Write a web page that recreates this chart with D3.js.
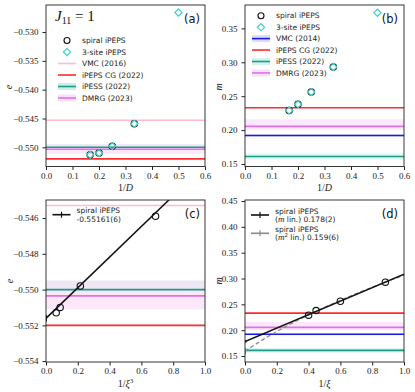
<!DOCTYPE html>
<html>
<head>
<meta charset="utf-8">
<script src="https://cdn.jsdelivr.net/npm/d3@7"></script>
<style>
  body { margin: 0; background: #fff; }
  svg { display: block; }
  .tick text { font-family: "Liberation Serif", serif; font-size: 9px; fill: #222; }
  .tick line { stroke: #222; }
  .leg { font-family: "DejaVu Sans", sans-serif; font-size: 7.5px; fill: #222; }
  .plab { font-family: "DejaVu Sans", sans-serif; font-size: 11.5px; fill: #111; }
  .alab { font-family: "Liberation Serif", serif; font-size: 10px; fill: #222; }
</style>
</head>
<body>
<div id="chart"></div>
<script>
// ---- data ----
const invD = [1/6, 1/5, 1/4, 1/3];
const spiralE = [-0.5513, -0.5510, -0.5498, -0.5459];
const spiralM = [0.229, 0.238, 0.256, 0.293];

const threeSiteInvD = [1/6, 1/5, 1/4, 1/3, 1/2];
const threeSiteE = [-0.5513, -0.5510, -0.5498, -0.5459, -0.5266];
const threeSiteM = [0.229, 0.238, 0.256, 0.293, 0.373];

// correlation length
const invXi = [0.400, 0.447, 0.600, 0.883];
const invXi3 = [0.064, 0.089, 0.216, 0.689];

// fits
const fitE = {e0: -0.55161, err: 0.00006, slope: 0.00857};
const fitMlin = {m0: 0.178, err: 0.002, slope: 0.1305};
const fitM2lin = {m0: 0.159, err: 0.006, slope: 0.0686};

// reference values: value, band low, band high
const refE = [
  {name: 'VMC (2016)', v: -0.5453, lo: null, hi: null, color: '#ffbccb', band: null},
  {name: 'iPEPS CG (2022)', v: -0.5520, lo: null, hi: null, color: '#ff2a2a', band: null},
  {name: 'iPESS (2022)', v: -0.5500, lo: -0.5501, hi: -0.5495, color: '#1f9a88', band: '#c9efe6'},
  {name: 'DMRG (2023)', v: -0.55035, lo: -0.5511, hi: -0.5495, color: '#e070e8', band: '#f8e0f8'}
];
const refM = [
  {name: 'VMC (2014)', v: 0.192, lo: 0.190, hi: 0.194, color: '#1a1aee', band: '#dcdcf8'},
  {name: 'iPEPS CG (2022)', v: 0.233, lo: null, hi: null, color: '#ff2a2a', band: null},
  {name: 'iPESS (2022)', v: 0.161, lo: 0.1567, hi: 0.1655, color: '#1f9a88', band: '#d2f4ea'},
  {name: 'DMRG (2023)', v: 0.2055, lo: 0.200, hi: 0.216, color: '#e070e8', band: '#f8e0f8'}
];

const xTicksD = [0, 0.1, 0.2, 0.3, 0.4, 0.5, 0.6];
const xTicksXi = [0, 0.2, 0.4, 0.6, 0.8, 1.0];
const yTicksA = [-0.530, -0.535, -0.540, -0.545, -0.550];
const yTicksB = [0.15, 0.20, 0.25, 0.30, 0.35];
const yTicksC = [-0.546, -0.548, -0.550, -0.552, -0.554];
const yTicksD = [0.15, 0.20, 0.25, 0.30, 0.35, 0.40, 0.45];

const W = 415, H = 392;
const svg = d3.select('#chart').append('svg').attr('width', W).attr('height', H);

const cyan = '#3fd3c6';
// square diamond like matplotlib 'D'
const diamondPath = d3.symbol(d3.symbolSquare, 26)();

function panel(id, box, xDom, yDom, xTicks, yTicks, xFmt, yFmt) {
  const x = d3.scaleLinear(xDom, [box.x0, box.x1]);
  const y = d3.scaleLinear(yDom, [box.y1, box.y0]);
  svg.append('clipPath').attr('id', 'clip' + id).append('rect')
    .attr('x', box.x0).attr('y', box.y0)
    .attr('width', box.x1 - box.x0).attr('height', box.y1 - box.y0);
  const plot = svg.append('g').attr('clip-path', `url(#clip${id})`);
  const top = svg.append('g');
  svg.append('g').attr('transform', `translate(0,${box.y1})`)
    .call(d3.axisBottom(x).tickValues(xTicks).tickFormat(d3.format(xFmt)).tickSize(3.5).tickSizeOuter(0))
    .call(g => g.select('.domain').remove())
    .call(g => g.selectAll('text').attr('dy', '0.62em'));
  svg.append('g').attr('transform', `translate(${box.x0},0)`)
    .call(d3.axisLeft(y).tickValues(yTicks).tickFormat(d3.format(yFmt)).tickSize(3.5).tickSizeOuter(0))
    .call(g => g.select('.domain').remove())
    .call(g => g.selectAll('text').attr('dx', '-0.1em'));
  svg.append('rect').attr('x', box.x0).attr('y', box.y0)
    .attr('width', box.x1 - box.x0).attr('height', box.y1 - box.y0)
    .attr('fill', 'none').attr('stroke', '#222').attr('stroke-width', 0.9);
  return {x, y, plot, top, box};
}

function refLines(p, refs) {
  refs.filter(r => r.band).forEach(r => {
    p.plot.append('rect').attr('x', p.box.x0).attr('width', p.box.x1 - p.box.x0)
      .attr('y', p.y(r.hi)).attr('height', p.y(r.lo) - p.y(r.hi))
      .attr('fill', r.band).attr('fill-opacity', 0.75);
  });
  refs.forEach(r => {
    p.plot.append('line').attr('x1', p.box.x0).attr('x2', p.box.x1)
      .attr('y1', p.y(r.v)).attr('y2', p.y(r.v))
      .attr('stroke', r.color).attr('stroke-width', 1.6);
  });
}

function circles(p, xs, ys) {
  p.plot.selectAll(null).data(d3.zip(xs, ys)).join('circle')
    .attr('cx', d => p.x(d[0])).attr('cy', d => p.y(d[1])).attr('r', 3.2)
    .attr('fill', 'none').attr('stroke', '#111').attr('stroke-width', 1.1);
}

function diamonds(p, xs, ys) {
  p.plot.selectAll(null).data(d3.zip(xs, ys)).join('path')
    .attr('d', diamondPath)
    .attr('transform', d => `translate(${p.x(d[0])},${p.y(d[1])}) rotate(45)`)
    .attr('fill', 'none').attr('stroke', cyan).attr('stroke-width', 1.2);
}

function legend(p, x0, y0, dy, items) {
  items.forEach((it, i) => {
    const yy = y0 + i * dy;
    const g = p.top.append('g');
    if (it.type === 'circle') {
      g.append('circle').attr('cx', x0 + 9).attr('cy', yy).attr('r', 3)
        .attr('fill', 'none').attr('stroke', '#111').attr('stroke-width', 1.1);
    } else if (it.type === 'diamond') {
      g.append('path').attr('d', diamondPath)
        .attr('transform', `translate(${x0 + 9},${yy}) rotate(45)`)
        .attr('fill', 'none').attr('stroke', cyan).attr('stroke-width', 1.2);
    } else {
      if (it.band) g.append('rect').attr('x', x0).attr('y', yy - 3.5).attr('width', 18).attr('height', 7)
        .attr('fill', it.band);
      g.append('line').attr('x1', x0).attr('x2', x0 + 18).attr('y1', yy).attr('y2', yy)
        .attr('stroke', it.color).attr('stroke-width', 1.6);
      if (it.err) g.append('line').attr('x1', x0 + 9).attr('x2', x0 + 9)
        .attr('y1', yy - 3).attr('y2', yy + 3).attr('stroke', it.color).attr('stroke-width', 1.2);
    }
    const t = g.append('text').attr('class', 'leg').attr('x', x0 + 24).attr('y', yy + 2.7);
    if (it.lines) {
      it.lines.forEach((ln, j) => {
        const ts = t.append('tspan').attr('x', x0 + 24).attr('y', yy - 1.5 + j * 8.5);
        ln(ts);
      });
    } else t.text(it.name);
  });
}

// ---- (a) energy vs 1/D ----
const pa = panel('a', {x0: 46, x1: 205, y0: 5, y1: 166.5}, [0, 0.6], [-0.55333, -0.52531],
  xTicksD, yTicksA, '.1f', '.3f');
refLines(pa, refE);
circles(pa, invD, spiralE);
diamonds(pa, threeSiteInvD, threeSiteE);
legend(pa, 58, 40.5, 11.5, [
  {type: 'circle', name: 'spiral iPEPS'},
  {type: 'diamond', name: '3-site iPEPS'},
  ...refE.map(r => ({type: 'line', name: r.name, color: r.color, band: r.band}))
]);
const jt = pa.top.append('text').attr('x', 55).attr('y', 21)
  .attr('font-family', 'Liberation Serif, serif').attr('font-size', 15).attr('fill', '#111');
jt.append('tspan').attr('font-style', 'italic').text('J');
jt.append('tspan').attr('font-size', 10).attr('dy', 3).text('11');
jt.append('tspan').attr('dy', -3).text(' = 1');
pa.top.append('text').attr('class', 'plab').attr('x', 200).attr('y', 22.5).attr('text-anchor', 'end').text('(a)');

// ---- (b) magnetization vs 1/D ----
const pb = panel('b', {x0: 245, x1: 404, y0: 5, y1: 166.5}, [0, 0.6], [0.1463, 0.3845],
  xTicksD, yTicksB, '.1f', '.2f');
refLines(pb, refM);
circles(pb, invD, spiralM);
diamonds(pb, threeSiteInvD, threeSiteM);
legend(pb, 252, 15.7, 11.45, [
  {type: 'circle', name: 'spiral iPEPS'},
  {type: 'diamond', name: '3-site iPEPS'},
  ...refM.map(r => ({type: 'line', name: r.name, color: r.color, band: r.band}))
]);
pb.top.append('text').attr('class', 'plab').attr('x', 398).attr('y', 22.5).attr('text-anchor', 'end').text('(b)');

// ---- (c) energy vs 1/xi^3 ----
const pc = panel('c', {x0: 46, x1: 205, y0: 200, y1: 362}, [0, 1.0], [-0.55405, -0.54499],
  xTicksXi, yTicksC, '.1f', '.3f');
refLines(pc, refE);
pc.plot.append('line')
  .attr('x1', pc.x(0)).attr('y1', pc.y(fitE.e0))
  .attr('x2', pc.x(1)).attr('y2', pc.y(fitE.e0 + fitE.slope))
  .attr('stroke', '#111').attr('stroke-width', 1.5);
pc.plot.append('line').attr('x1', pc.x(0)).attr('x2', pc.x(0))
  .attr('y1', pc.y(fitE.e0 - fitE.err) + 2).attr('y2', pc.y(fitE.e0 + fitE.err) - 2)
  .attr('stroke', '#111').attr('stroke-width', 2);
circles(pc, invXi3, spiralE);
legend(pc, 52.5, 214.7, 0, [
  {type: 'line', color: '#111', err: true, lines: [
    ts => ts.text('spiral iPEPS'),
    ts => ts.text('-0.55161(6)')
  ]}
]);
pc.top.append('text').attr('class', 'plab').attr('x', 200).attr('y', 217.5).attr('text-anchor', 'end').text('(c)');

// ---- (d) magnetization vs 1/xi ----
const pd = panel('d', {x0: 245, x1: 404, y0: 200, y1: 362}, [0, 1.0], [0.1384, 0.452],
  xTicksXi, yTicksD, '.1f', '.2f');
refLines(pd, refM);
const xs = d3.range(0, 1.0001, 0.02);
pd.plot.append('path')
  .attr('d', d3.line().x(d => pd.x(d)).y(d => pd.y(Math.sqrt(fitM2lin.m0 * fitM2lin.m0 + fitM2lin.slope * d)))(xs))
  .attr('fill', 'none').attr('stroke', '#8a8a8a').attr('stroke-width', 1.3).attr('stroke-dasharray', '4,2.5');
pd.plot.append('line')
  .attr('x1', pd.x(0)).attr('y1', pd.y(fitMlin.m0))
  .attr('x2', pd.x(1)).attr('y2', pd.y(fitMlin.m0 + fitMlin.slope))
  .attr('stroke', '#111').attr('stroke-width', 1.5);
pd.plot.append('line').attr('x1', pd.x(0)).attr('x2', pd.x(0))
  .attr('y1', pd.y(fitMlin.m0 - fitMlin.err)).attr('y2', pd.y(fitMlin.m0 + fitMlin.err))
  .attr('stroke', '#111').attr('stroke-width', 3);
pd.plot.append('line').attr('x1', pd.x(0)).attr('x2', pd.x(0))
  .attr('y1', pd.y(fitM2lin.m0 - fitM2lin.err)).attr('y2', pd.y(fitM2lin.m0 + fitM2lin.err))
  .attr('stroke', '#8a8a8a').attr('stroke-width', 2);
circles(pd, invXi, spiralM);
legend(pd, 251, 215, 18.3, [
  {type: 'line', color: '#111', err: true, lines: [
    ts => ts.text('spiral iPEPS'),
    ts => { ts.text('('); ts.append('tspan').attr('font-family', 'Liberation Serif, serif').attr('font-style', 'italic').attr('font-size', 9).text('m'); ts.append('tspan').text(' lin.) 0.178(2)'); }
  ]},
  {type: 'line', color: '#8a8a8a', err: true, lines: [
    ts => ts.text('spiral iPEPS'),
    ts => {
      ts.text('(');
      ts.append('tspan').attr('font-family', 'Liberation Serif, serif').attr('font-style', 'italic').attr('font-size', 9).text('m');
      ts.append('tspan').attr('font-size', 5.5).attr('dy', -3).text('2');
      ts.append('tspan').attr('dy', 3).text(' lin.) 0.159(6)');
    }
  ]}
]);
pd.top.append('text').attr('class', 'plab').attr('x', 398).attr('y', 217.5).attr('text-anchor', 'end').text('(d)');

// ---- axis labels ----
function xLabel(cx, yb, parts) {
  const t = svg.append('text').attr('class', 'alab').attr('x', cx).attr('y', yb).attr('text-anchor', 'middle');
  parts(t);
}
xLabel(125.5, 191, t => { t.append('tspan').text('1/'); t.append('tspan').attr('font-style', 'italic').text('D'); });
xLabel(324.5, 191, t => { t.append('tspan').text('1/'); t.append('tspan').attr('font-style', 'italic').text('D'); });
xLabel(125.5, 387, t => {
  t.append('tspan').text('1/');
  t.append('tspan').attr('font-style', 'italic').text('ξ');
  t.append('tspan').attr('font-size', 6.5).attr('dy', -4).text('3');
});
xLabel(324.5, 387, t => { t.append('tspan').text('1/'); t.append('tspan').attr('font-style', 'italic').text('ξ'); });

function yLabel(cx, cy, s) {
  svg.append('text').attr('class', 'alab').attr('font-style', 'italic')
    .attr('transform', `translate(${cx},${cy}) rotate(-90)`)
    .attr('text-anchor', 'middle').attr('dy', '0.35em').text(s);
}
yLabel(8, 87, 'e');
yLabel(218, 87, 'm');
yLabel(9, 281, 'e');
yLabel(218, 281, 'm');
</script>
</body>
</html>
